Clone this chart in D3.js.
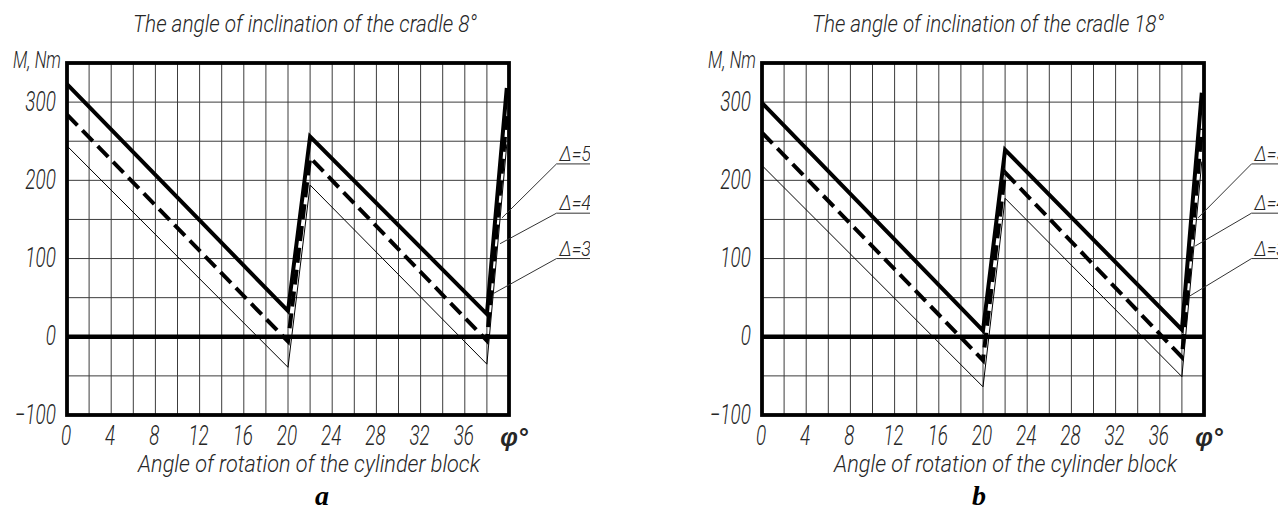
<!DOCTYPE html>
<html><head><meta charset="utf-8">
<script src="https://cdn.jsdelivr.net/npm/d3@7"></script>
<style>body{margin:0;background:#fff}svg{display:block}</style>
</head><body>
<svg id="chart" width="1285" height="510"></svg>
<script>
// ---------- data ----------
const angleTicks = [0, 4, 8, 12, 16, 20, 24, 28, 32, 36];
const momentTicks = [-100, 0, 100, 200, 300];
const gridAngles = [2,4,6,8,10,12,14,16,18,20,22,24,26,28,30,32,34,36,38];
const gridMoments = [-50, 50, 100, 150, 200, 250, 300];

// chart a : cradle 8°
const phiA = [0, 20, 22, 38, 39.8];
const a_delta5 = [323, 33, 256, 29, 318];
const a_delta4 = [284, -6, 229, -5, 282];
const a_delta3 = [244, -39, 194, -35, 246];
// chart b : cradle 18°
const phiB = [0, 20, 22, 38, 39.8];
const b_delta5 = [299, 8, 239, 9, 312];
const b_delta4 = [261, -30, 210, -26, 266];
const b_delta3 = [219, -64, 177, -51, 224];

const labelTexts = ["Δ=5μm", "Δ=4μm", "Δ=3μm"];
const labelMoments = [221, 158, 100];
const labelAngle = 44.3;
const leaderA = [[39.37, 152], [39.19, 119], [38.55, 55]];
const leaderB = [[39.46, 152], [39.2, 116], [38.7, 52]];

// ---------- layout ----------
const svg = d3.select("#chart");
const TOP = 63, BOTTOM = 415, PW = 442;
const FONT = "Roboto, 'Liberation Sans', Arial, sans-serif";
const SX = 0.7; // horizontal condensing of the drafting font
const INK = "#262626";

const panels = [
  {x0: 67, title: "The angle of inclination of the cradle 8°", titleX: 133, titleW: 344,
   axisX: 138, axisW: 342, letter: "a", letterX: 322, phi: phiA,
   series: [a_delta5, a_delta4, a_delta3], leaders: leaderA, clipR: 590},
  {x0: 762, title: "The angle of inclination of the cradle 18°", titleX: 812, titleW: 352,
   axisX: 834, axisW: 343, letter: "b", letterX: 979, phi: phiB,
   series: [b_delta5, b_delta4, b_delta3], leaders: leaderB, clipR: 1278}
];

const styles = [
  {w: 4, dash: null},
  {w: 4, dash: "15,7"},
  {w: 1, dash: null}
];

function drafting(sel, size) {
  return sel.attr("font-family", FONT).attr("font-style", "italic")
    .attr("font-weight", 300).attr("font-size", size).attr("fill", INK);
}

panels.forEach((p, pi) => {
  const x = d3.scaleLinear().domain([0, 40]).range([p.x0, p.x0 + PW]);
  const y = d3.scaleLinear().domain([-100, 350]).range([BOTTOM, TOP]);
  const g = svg.append("g");

  // grid
  g.append("g").selectAll("line").data(gridAngles).join("line")
    .attr("x1", d => x(d)).attr("x2", d => x(d))
    .attr("y1", y(350)).attr("y2", y(-100))
    .attr("stroke", "#3c3c3c").attr("stroke-width", 1);
  g.append("g").selectAll("line").data(gridMoments).join("line")
    .attr("x1", x(0)).attr("x2", x(40))
    .attr("y1", d => y(d)).attr("y2", d => y(d))
    .attr("stroke", "#3c3c3c").attr("stroke-width", 1);

  // zero line
  g.append("line").attr("x1", x(0)).attr("x2", x(40))
    .attr("y1", y(0)).attr("y2", y(0))
    .attr("stroke", "#000").attr("stroke-width", 4.5);

  // series
  p.series.forEach((vals, si) => {
    const line = d3.line().x((d, i) => x(p.phi[i])).y(d => y(d));
    g.append("path").attr("d", line(vals))
      .attr("fill", "none").attr("stroke", "#000")
      .attr("stroke-width", styles[si].w)
      .attr("stroke-dasharray", styles[si].dash)
      .attr("stroke-linejoin", "miter");
  });

  // frame
  g.append("rect").attr("x", x(0)).attr("y", y(350))
    .attr("width", x(40) - x(0)).attr("height", y(-100) - y(350))
    .attr("fill", "none").attr("stroke", "#000").attr("stroke-width", 3.8);

  // y axis labels
  const yAxis = d3.axisLeft(y).tickValues(momentTicks).tickSize(0).tickPadding(16);
  const ya = g.append("g").attr("transform", `translate(${x(0)},0)`).call(yAxis);
  ya.select(".domain").remove();
  drafting(ya.selectAll("text"), 27).attr("dy", "0.3em")
    .attr("transform", `scale(${SX},1)`);

  // x axis labels
  const xAxis = d3.axisBottom(x).tickValues(angleTicks).tickSize(0).tickPadding(11);
  const xa = g.append("g").attr("transform", `translate(-1,${y(-100)})`).call(xAxis);
  xa.select(".domain").remove();
  xa.selectAll(".tick").each(function(d) {
    d3.select(this).attr("transform", `translate(${x(d)},0) scale(${SX},1)`);
  });
  drafting(xa.selectAll("text"), 27).attr("dy", "0.71em");

  // phi symbol
  g.append("text").attr("x", x(40) + 5).attr("y", 446).attr("text-anchor", "middle")
    .attr("font-family", "'Liberation Sans', Arial, sans-serif").attr("font-style", "italic")
    .attr("font-weight", "bold").attr("font-size", 25).attr("fill", INK).text("φ°");

  // M, Nm
  drafting(g.append("text").attr("transform", `translate(${x(0) - 6},68) scale(0.74,1)`)
    .attr("text-anchor", "end"), 23).text("M, Nm");

  // title
  drafting(g.append("text").attr("x", p.titleX).attr("y", 32)
    .attr("textLength", p.titleW).attr("lengthAdjust", "spacingAndGlyphs"), 24).text(p.title);

  // axis title
  drafting(g.append("text").attr("x", p.axisX).attr("y", 472)
    .attr("textLength", p.axisW).attr("lengthAdjust", "spacingAndGlyphs"), 24)
    .text("Angle of rotation of the cylinder block");

  // panel letter
  g.append("text").attr("x", p.letterX).attr("y", 505).attr("text-anchor", "middle")
    .attr("font-family", "'Liberation Serif', 'Times New Roman', serif")
    .attr("font-style", "italic").attr("font-weight", "bold")
    .attr("font-size", 28).attr("fill", "#000").text(p.letter);

  // leader labels (clipped like the cropped original)
  const cid = "clip" + pi;
  svg.append("clipPath").attr("id", cid).append("rect")
    .attr("x", x(0)).attr("y", 0).attr("width", p.clipR - x(0)).attr("height", 510);
  const lg = g.append("g").attr("clip-path", `url(#${cid})`);
  p.leaders.forEach((end, i) => {
    const lx = x(labelAngle), ly = y(labelMoments[i]);
    lg.append("line").attr("x1", x(end[0])).attr("y1", y(end[1]))
      .attr("x2", lx).attr("y2", ly).attr("stroke", "#333").attr("stroke-width", 1);
    lg.append("line").attr("x1", lx).attr("y1", ly).attr("x2", lx + 60).attr("y2", ly)
      .attr("stroke", "#333").attr("stroke-width", 1);
    drafting(lg.append("text").attr("transform", `translate(${lx + 3},${ly - 3}) scale(0.9,1)`), 20)
      .text(labelTexts[i]);
  });
});
</script>
</body></html>
